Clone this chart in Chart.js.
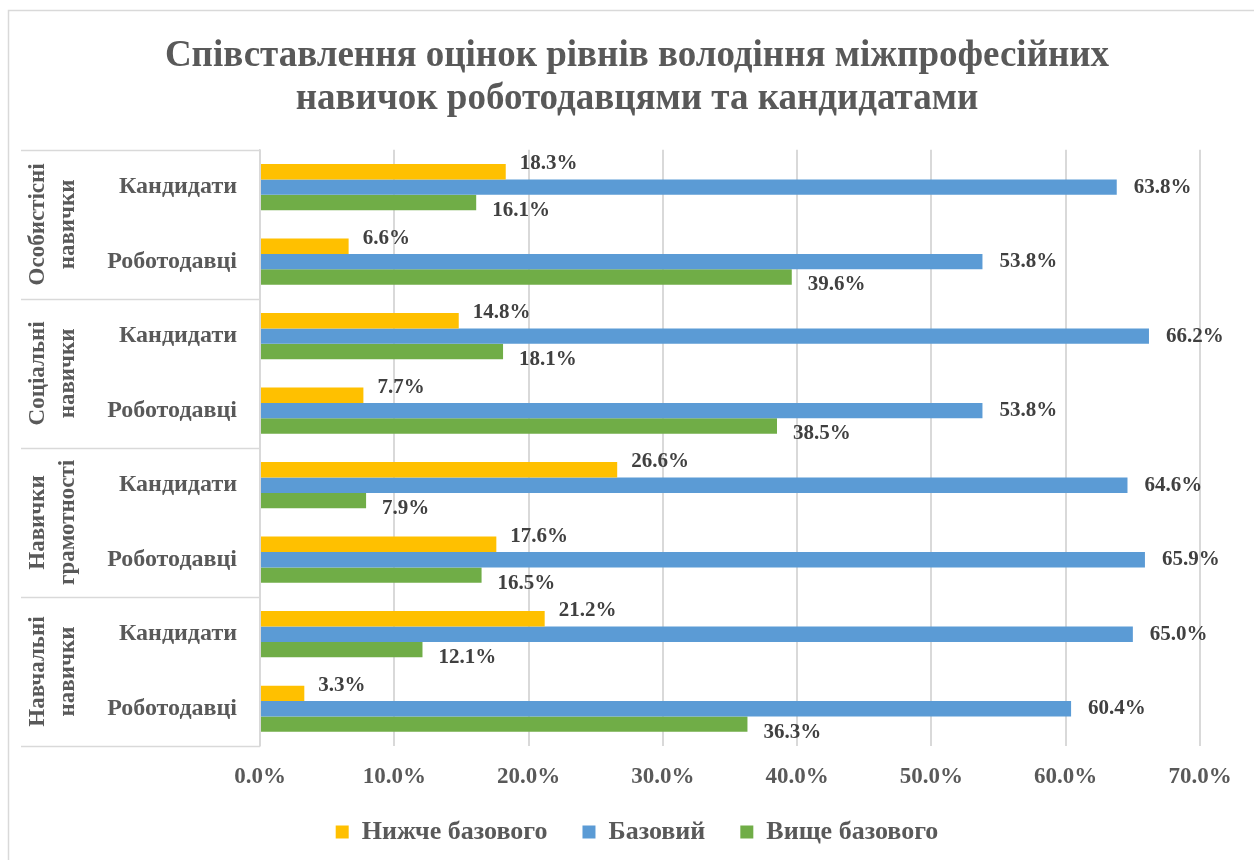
<!DOCTYPE html>
<html>
<head>
<meta charset="utf-8">
<script src="https://cdn.jsdelivr.net/npm/chart.js@4.4.1/dist/chart.umd.min.js"></script>
<style>
  html, body { margin: 0; padding: 0; background: #fff; }
  #wrap { width: 1254px; height: 860px; }
</style>
</head>
<body>
<div id="wrap"><canvas id="myChart" width="1254" height="860"></canvas></div>
<script>
// data (top to bottom)
const groupLines = [
    ['Особистісні', 'навички'],
    ['Соціальні', 'навички'],
    ['Навички', 'грамотності'],
    ['Навчальні', 'навички']
];
const roles = ['Кандидати', 'Роботодавці'];
const seriesNames = ['Нижче базового', 'Базовий', 'Вище базового'];

const belowBasic = [18.3, 6.6, 14.8, 7.7, 26.6, 17.6, 21.2, 3.3];
const basic = [63.8, 53.8, 66.2, 53.8, 64.6, 65.9, 65.0, 60.4];
const aboveBasic = [16.1, 39.6, 18.1, 38.5, 7.9, 16.5, 12.1, 36.3];

const colors = ['#FFC000', '#5B9BD5', '#70AD47'];
const serif = "'Liberation Serif', 'Times New Roman', serif";
const grey = '#595959';

const labels = [];
for (let g of groupLines) {
    for (let r of roles) labels.push(r);
}

// frame round the whole picture
const framePlugin = {
    id: 'frame',
    beforeDraw(chart) {
        const c = chart.ctx;
        c.save();
        c.fillStyle = '#fff';
        c.fillRect(0, 0, chart.width, chart.height);
        c.strokeStyle = '#d9d9d9';
        c.lineWidth = 1.5;
        c.strokeRect(8.5, 10.5, 1270, 880);
        c.restore();
    }
};

// group names + lines of the two-level axis
const groupPlugin = {
    id: 'groups',
    afterDraw(chart) {
        const c = chart.ctx;
        const area = chart.chartArea;
        const step = (area.bottom - area.top) / labels.length;
        c.save();
        c.strokeStyle = '#d9d9d9';
        c.lineWidth = 1.5;
        for (let g = 0; g <= groupLines.length; g++) {
            const y = Math.round(area.top + g * 2 * step) + 0.5;
            c.beginPath();
            c.moveTo(21, y);
            c.lineTo(area.left, y);
            c.stroke();
        }
        c.fillStyle = grey;
        c.font = 'bold 23px ' + serif;
        c.textAlign = 'center';
        c.textBaseline = 'middle';
        groupLines.forEach((lines, g) => {
            const yc = area.top + (g * 2 + 1) * step;
            lines.forEach((t, k) => {
                c.save();
                c.translate(38 + k * 30, yc);
                c.rotate(-Math.PI / 2);
                c.fillText(t, 0, 0);
                c.restore();
            });
        });
        c.restore();
    }
};

// value labels next to bar ends
const valuePlugin = {
    id: 'values',
    afterDatasetsDraw(chart) {
        const c = chart.ctx;
        const dx = [14, 17, 16];
        const dy = [-8, 0, 8];
        c.save();
        c.fillStyle = '#404040';
        c.font = 'bold 21px ' + serif;
        c.textAlign = 'left';
        c.textBaseline = 'middle';
        chart.data.datasets.forEach((ds, i) => {
            const meta = chart.getDatasetMeta(i);
            meta.data.forEach((bar, j) => {
                c.fillText(ds.data[j].toFixed(1) + '%', bar.x + dx[i], bar.y + dy[i]);
            });
        });
        c.restore();
    }
};

const ctx = document.getElementById('myChart').getContext('2d');

new Chart(ctx, { //eslint-disable-line
    type: 'bar',
    data: {
        labels: labels,
        datasets: [
            { label: seriesNames[0], data: belowBasic, backgroundColor: colors[0] },
            { label: seriesNames[1], data: basic, backgroundColor: colors[1] },
            { label: seriesNames[2], data: aboveBasic, backgroundColor: colors[2] }
        ]
    },
    plugins: [framePlugin, groupPlugin, valuePlugin],
    options: {
        indexAxis: 'y',
        responsive: false,
        animation: false,
        categoryPercentage: 0.62,
        barPercentage: 1.0,
        layout: { padding: { left: 20, right: 0, top: 0, bottom: 5 } },
        scales: {
            x: {
                min: 0,
                max: 70,
                ticks: {
                    stepSize: 10,
                    padding: 17,
                    color: grey,
                    font: { family: serif, size: 23, weight: 'bold' },
                    callback: v => v.toFixed(1) + '%'
                },
                grid: { color: '#d9d9d9', lineWidth: 2, drawTicks: false },
                border: { display: false },
                afterFit(s) { s.height = 38; }
            },
            y: {
                ticks: {
                    padding: 23,
                    color: grey,
                    font: { family: serif, size: 24, weight: 'bold' }
                },
                grid: { display: false, drawTicks: false },
                border: { color: '#d9d9d9', width: 1.5 },
                afterFit(s) { s.width = 240; }
            },
            yRight: {
                type: 'linear',
                position: 'right',
                display: true,
                ticks: { display: false },
                grid: { display: false, drawTicks: false },
                border: { display: false },
                afterFit(s) { s.width = 54; }
            }
        },
        plugins: {
            tooltip: { enabled: false },
            title: {
                display: true,
                text: ['Співставлення оцінок рівнів володіння міжпрофесійних', 'навичок роботодавцями та кандидатами'],
                color: grey,
                font: { family: serif, size: 37, weight: 'bold', lineHeight: 1.16 },
                padding: { top: 35, bottom: 29 }
            },
            legend: {
                position: 'bottom',
                labels: {
                    boxWidth: 13,
                    boxHeight: 13,
                    padding: 35,
                    color: grey,
                    font: { family: serif, size: 26, weight: 'bold' }
                }
            }
        }
    }
});
</script>
</body>
</html>
